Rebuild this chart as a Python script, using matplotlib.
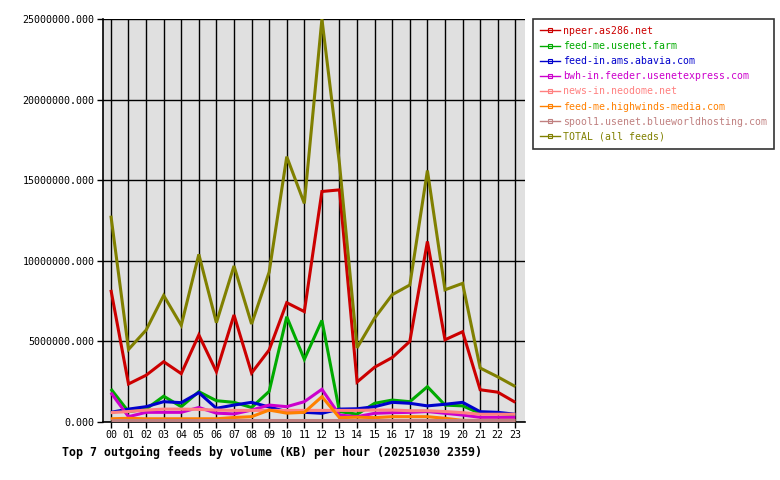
import matplotlib
matplotlib.use('Agg')
import matplotlib.pyplot as plt
from matplotlib.lines import Line2D

## -- hourly data (values in millions of KB)
hours = ['00', '01', '02', '03', '04', '05', '06', '07', '08', '09', '10', '11',
         '12', '13', '14', '15', '16', '17', '18', '19', '20', '21', '22', '23']

npeer = [8.2, 2.36, 2.9, 3.74, 3.0, 5.4, 3.12, 6.64, 3.04, 4.47, 7.4, 6.85,
         14.3, 14.4, 2.48, 3.4, 4.0, 5.0, 11.2, 5.1, 5.6, 2.0, 1.85, 1.22]
feedme_farm = [2.05, 0.64, 0.8, 1.6, 0.95, 1.88, 1.32, 1.22, 0.9, 1.9, 6.53, 3.89,
               6.3, 0.65, 0.48, 1.16, 1.36, 1.26, 2.19, 1.05, 1.0, 0.54, 0.54, 0.43]
abavia = [0.6, 0.8, 0.95, 1.26, 1.2, 1.82, 0.85, 1.05, 1.22, 0.93, 0.64, 0.6,
          0.54, 0.8, 0.82, 0.95, 1.22, 1.16, 1.0, 1.1, 1.22, 0.64, 0.6, 0.48]
usenetexpress = [1.82, 0.33, 0.6, 0.6, 0.6, 0.9, 0.55, 0.5, 0.74, 1.05, 0.95, 1.26,
                 2.03, 0.43, 0.33, 0.54, 0.58, 0.6, 0.65, 0.54, 0.43, 0.29, 0.29, 0.29]
neodome = [0.58, 0.65, 0.74, 0.8, 0.8, 0.78, 0.74, 0.72, 0.72, 0.72, 0.72, 0.72,
           0.72, 0.72, 0.72, 0.74, 0.74, 0.7, 0.7, 0.65, 0.58, 0.48, 0.48, 0.48]
highwinds = [0.2, 0.23, 0.2, 0.2, 0.2, 0.2, 0.2, 0.28, 0.33, 0.74, 0.55, 0.6,
             1.57, 0.27, 0.3, 0.27, 0.33, 0.33, 0.33, 0.23, 0.1, 0.1, 0.1, 0.1]
blueworld = [0.12, 0.12, 0.12, 0.12, 0.12, 0.12, 0.12, 0.12, 0.12, 0.12, 0.12, 0.12,
             0.12, 0.12, 0.12, 0.12, 0.12, 0.12, 0.12, 0.12, 0.12, 0.12, 0.12, 0.12]
total = [12.8, 4.5, 5.7, 7.85, 6.0, 10.4, 6.16, 9.68, 6.08, 9.3, 16.46, 13.56,
         25.0, 16.0, 4.6, 6.45, 7.9, 8.5, 15.6, 8.2, 8.6, 3.35, 2.8, 2.2]

labels = ['npeer.as286.net', 'feed-me.usenet.farm', 'feed-in.ams.abavia.com',
          'bwh-in.feeder.usenetexpress.com', 'news-in.neodome.net',
          'feed-me.highwinds-media.com', 'spool1.usenet.blueworldhosting.com',
          'TOTAL (all feeds)']
series = [npeer, feedme_farm, abavia, usenetexpress, neodome, highwinds, blueworld, total]
colors = ['#CC0000', '#00AA00', '#0000CC', '#CC00CC', '#FF8080', '#FF8000',
          '#C08080', '#808000']

yticks = [0, 5e6, 10e6, 15e6, 20e6, 25e6]

#******************************************************************************
## -- Plot
#******************************************************************************
mono = 'DejaVu Sans Mono'
fig = plt.figure(figsize=(7.8, 4.8), dpi=100)
ax = fig.add_axes([103/780, 58/480, 422/780, 403/480])
ax.set_facecolor('#E0E0E0')

x = list(range(len(hours)))
for vals, c in zip(series, colors):
    ax.plot(x, [v*1e6 for v in vals], color=c, lw=2.2, solid_joinstyle='miter',
            solid_capstyle='butt', zorder=3)

ax.set_xlim(-0.45, 23.55)
ax.set_ylim(0, 25e6)
ax.set_xticks(x)
ax.set_xticklabels(hours, family=mono, fontsize=7.2)
ax.set_yticks(yticks)
ax.set_yticklabels(['%.3f' % v for v in yticks], family=mono, fontsize=7.2)
ax.grid(True, color='black', lw=1, zorder=1)
ax.set_axisbelow(True)
ax.tick_params(direction='out', length=4, width=1, color='black', pad=2)
for s in ['top', 'right']:
    ax.spines[s].set_visible(False)
for s in ['left', 'bottom']:
    ax.spines[s].set_linewidth(1.2)

fig.text(62/780, 1 - 452/480, 'Top 7 outgoing feeds by volume (KB) per hour (20251030 2359)',
         family=mono, fontsize=8.35, fontweight='bold', va='center', ha='left')

handles = [Line2D([], [], color=c, lw=1, marker='s', markersize=3,
                  markerfacecolor='none', markeredgewidth=0.8) for c in colors]
leg = fig.legend(handles, labels, loc='upper left',
                 bbox_to_anchor=(533/780, 1 - 19/480),
                 prop={'family': mono, 'size': 7.1}, frameon=True,
                 fancybox=False, handlelength=2.0, handletextpad=0.35,
                 labelspacing=0.52, borderpad=0.7, borderaxespad=0)
leg.get_frame().set_edgecolor('black')
leg.get_frame().set_linewidth(1.2)
for t, c in zip(leg.get_texts(), colors):
    t.set_color(c)

plt.savefig('out.png', dpi=100)
